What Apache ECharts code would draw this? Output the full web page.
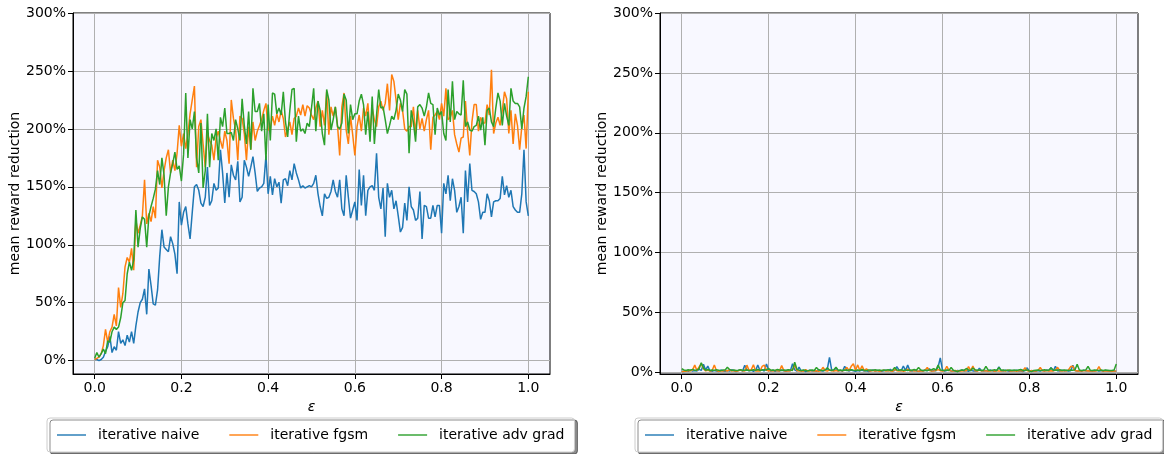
<!DOCTYPE html>
<html>
<head>
<meta charset="utf-8">
<script src="https://cdn.jsdelivr.net/npm/echarts@6/dist/echarts.min.js"></script>
<style>html,body{margin:0;padding:0;background:#fff}#c{width:1164px;height:454px}</style>
</head>
<body>
<div id="c"></div>
<script>
// epsilon grid: 201 points from 0 to 1
const eps = Array.from({length: 201}, (_, i) => i / 200);
const xTicks = [0, 0.2, 0.4, 0.6, 0.8, 1.0];
const yTicks = [0, 50, 100, 150, 200, 250, 300];
const seriesNames = ['iterative naive', 'iterative fgsm', 'iterative adv grad'];

// left panel (mean reward reduction, %)
const leftNaive = [1,1,0,1,3,8,12,21,7,12,
9,25,15,18,13,22,16,25,15,30,
42,50,53,62,40,79,65,49,48,61,
90,113,98,96,94,107,101,92,75,137,
117,128,133,118,105,128,150,152,
147,136,133,141,167,134,138,153,147,149,182,162,136,162,141,169,160,156,172,137,141,173,167,159,167,176,162,146,149,150,153,177,144,159,143,157,150,154,136,156,157,151,164,156,170,162,156,149,151,149,
150,
151,150,153,160,144,133,125,144,140,141,146,156,146,141,156,131,125,160,141,123,130,137,121,165,134,160,125,147,150,151,147,179,141,131,149,107,153,141,147,131,138,125,111,115,136,121,150,133,130,121,123,146,105,134,
133,123,123,134,124,134,134,110,153,144,160,138,157,147,128,133,141,110,164,137,170,147,146,144,137,122,128,128,144,138,124,137,138,138,140,159,143,151,141,147,133,130,128,128,144,182,137,125];

const leftFgsm = [1,2,3,6,13,27,16,25,29,40,30,63,46,58,81,89,85,97,78,121,110,117,125,156,118,127,120,133,123,173,167,149,164,175,182,162,173,164,179,203,185,196,183,196,213,225,237,167,202,208,187,
167,196,190,186,173,192,198,190,183,198,190,170,225,209,199,173,211,209,196,173,202,182,206,190,198,203,208,216,222,199,200,211,203,213,206,216,209,193,200,206,195,209,211,218,212,221,211,
220,
218,212,208,218,224,202,216,203,232,195,219,211,219,203,177,219,231,199,187,211,195,177,202,212,198,218,211,222,195,218,208,202,219,224,216,222,239,216,247,241,225,208,222,216,200,198,202,202,219,196,216,200,209,198,
208,216,182,210,212,215,208,222,211,235,208,210,216,195,187,180,192,193,224,198,177,206,221,221,198,210,205,205,221,212,251,196,205,210,203,216,232,226,196,216,187,213,203,182,202,212,183,232];

const leftAdvGrad = [2,7,3,6,10,6,17,16,25,29,27,29,37,50,52,75,85,78,87,130,98,114,124,122,98,125,133,140,148,164,152,175,160,125,150,162,170,180,165,168,155,178,231,175,208,200,215,175,162,205,149,
164,213,167,196,190,200,173,210,202,218,196,196,197,190,208,200,190,226,203,187,215,182,235,215,215,222,198,213,173,221,190,231,230,213,218,212,232,206,193,216,234,235,189,211,198,200,196,
205,
202,218,235,198,224,216,196,186,234,225,199,208,219,202,200,205,230,225,196,221,208,213,213,224,230,221,195,215,189,228,187,212,234,218,219,208,196,203,211,208,216,230,225,215,234,230,179,216,206,189,219,221,218,211,
219,231,222,221,195,218,212,215,196,190,234,206,241,208,215,213,212,242,202,206,199,198,202,203,211,199,210,186,216,218,206,202,218,231,224,203,222,211,203,235,224,222,222,219,200,218,228,245];

// right panel (mean reward reduction, %)
const rightNaive = [1.0,0.6,1.4,0.8,1.9,1.0,1.5,1.2,2.5,1.6,
6.8,2.0,5.2,1.3,0.8,1.6,1.1,0.7,1.9,1.2,
0.9,1.5,1.0,2.1,1.3,0.6,1.4,2.3,1.0,5.8,
2.1,1.2,1.8,0.9,1.6,6.1,1.5,2.3,1.1,6.9,
2.2,1.0,1.7,0.8,1.4,1.1,2.0,1.3,0.9,1.6,
1.2,7.2,2.0,1.1,4.3,1.0,1.5,0.7,1.2,1.8,
1.0,1.4,0.8,2.2,1.3,1.0,1.7,2.6,12.5,2.1,
1.2,3.8,1.0,1.6,0.9,5.0,1.8,1.1,2.0,1.3,
0.8,1.5,1.2,1.9,1.0,1.4,0.7,1.3,2.0,1.1,
1.6,1.0,0.8,1.3,1.8,1.2,2.4,1.0,1.5,4.8,
1.9,1.2,5.3,1.5,6.0,1.4,1.0,1.7,1.2,0.9,
1.5,1.1,2.0,1.3,3.0,1.0,1.6,1.2,4.5,12.0,
1.8,1.1,1.5,2.2,1.0,1.4,0.8,1.6,1.2,2.0,
1.1,1.5,0.9,1.8,1.2,1.4,1.0,3.4,1.3,1.1,
1.6,1.0,1.9,1.2,0.8,1.5,4.5,1.3,1.0,1.7,
1.2,0.9,1.5,1.1,1.8,1.0,1.3,0.7,1.6,3.8,
0.5,1.2,1.0,0.8,1.4,1.1,1.7,1.0,2.0,1.3,
4.0,1.1,5.0,1.4,1.0,1.8,1.2,1.5,1.0,1.3,
5.8,1.6,1.1,1.4,0.9,1.7,1.2,1.5,1.0,1.3,
1.1,1.6,1.0,1.4,0.8,1.5,1.2,1.0,1.3,1.1,
1.0];

const rightFgsm = [0.5,1.0,0.8,1.5,1.2,2.0,6.0,1.5,4.5,7.2,
3.0,1.2,1.8,1.0,1.5,6.2,1.4,0.9,1.3,1.0,
1.6,1.1,2.2,1.0,1.5,0.8,1.2,1.9,1.3,1.0,
6.0,1.5,2.1,6.3,1.2,1.4,1.0,4.9,6.0,1.8,
1.2,1.5,1.0,1.6,1.3,1.1,5.6,1.4,1.2,1.0,
1.4,2.1,6.2,1.5,1.0,1.3,0.9,2.3,1.2,1.0,
1.6,1.1,1.3,0.8,1.2,4.2,1.5,1.0,2.0,1.3,
1.1,1.5,1.0,1.6,1.2,1.8,4.2,1.3,5.0,7.2,
1.8,6.2,1.5,5.4,1.2,3.0,1.3,1.0,1.6,1.1,
1.4,0.9,1.3,1.8,1.0,1.5,1.2,0.8,2.5,1.4,
1.0,1.5,0.9,1.3,2.8,1.1,1.6,1.0,1.4,0.8,
1.3,1.1,1.7,4.0,1.5,1.2,1.0,1.6,2.2,1.4,
1.1,1.5,5.0,1.6,1.2,1.0,1.5,0.9,1.3,1.1,
1.6,1.2,4.8,1.5,5.2,1.3,1.0,1.8,1.2,1.5,
1.0,1.3,1.1,1.6,0.9,1.4,1.2,1.0,1.5,1.1,
1.8,1.2,1.0,1.4,0.8,1.3,1.6,1.1,3.8,1.4,
1.0,1.5,1.2,1.0,1.6,4.0,1.3,1.1,1.5,1.0,
1.4,1.2,1.7,4.2,1.3,1.0,1.5,1.2,2.0,4.8,
5.0,1.6,1.1,1.4,1.0,1.3,1.6,1.1,1.4,1.2,
1.0,1.3,4.8,1.5,1.1,1.4,1.0,1.2,0.9,1.1,
1.0];

const rightAdvGrad = [3.0,2.0,1.5,2.2,1.8,2.5,1.6,2.0,3.0,8.0,
3.5,1.8,2.4,1.5,2.0,1.6,2.2,1.8,1.4,2.0,
2.0,4.2,2.3,1.6,2.0,1.5,1.8,2.2,1.6,1.8,
2.0,1.5,1.7,2.1,1.8,2.4,1.6,1.9,2.2,2.0,
3.2,1.8,2.0,1.6,2.3,1.9,1.5,2.0,1.7,2.2,
2.0,1.6,8.5,2.5,1.8,1.5,2.0,1.6,1.2,1.8,
2.0,1.5,4.0,2.2,1.8,1.6,2.0,3.8,2.0,1.6,
2.2,4.2,1.8,2.0,1.5,1.9,1.6,2.0,2.2,1.8,
1.5,2.0,1.6,2.3,1.8,1.4,1.9,2.0,1.6,2.2,
1.8,2.0,1.5,1.9,1.7,2.1,1.6,1.8,4.0,2.0,
1.8,2.2,1.6,2.0,1.5,1.9,1.7,2.3,1.8,4.0,
2.0,1.6,1.8,1.5,2.0,2.2,3.0,1.8,6.0,2.0,
1.8,1.5,2.0,1.6,4.0,1.8,1.2,0.5,1.6,2.0,
1.8,3.2,2.0,1.6,3.5,2.2,1.8,2.0,1.5,1.9,
5.0,2.0,1.6,1.8,2.2,1.5,4.0,1.8,2.0,1.6,
1.8,2.0,1.5,1.9,1.6,2.0,2.3,1.8,1.5,2.0,
1.2,0.6,1.5,1.8,2.0,1.6,1.8,2.2,1.5,1.9,
3.5,1.8,2.0,1.6,2.2,1.5,2.0,1.8,1.6,2.0,
1.8,2.2,6.8,2.0,1.6,1.8,2.0,5.0,1.8,1.6,
2.0,1.8,1.5,1.9,1.6,2.0,1.8,1.5,1.6,2.0,
7.0];

const colors = ['#1f77b4', '#ff7f0e', '#2ca02c'];
const FONT = 'DejaVu Sans';
const panels = [
  {data: [leftNaive, leftFgsm, leftAdvGrad], ymin: -11.5},
  {data: [rightNaive, rightFgsm, rightAdvGrad], ymin: -1.4}
];

function xAxis(idx) {
  return {
    type: 'value', gridIndex: idx, min: -0.05, max: 1.05,
    name: 'ε', nameLocation: 'middle', nameGap: 22,
    nameTextStyle: {fontFamily: FONT, fontSize: 14, fontStyle: 'italic', color: '#000'},
    axisLine: {show: true, onZero: false, lineStyle: {color: '#000', width: 1}},
    axisTick: {show: true, length: 5, lineStyle: {color: '#000'}, customValues: xTicks},
    axisLabel: {fontFamily: FONT, fontSize: 14, color: '#000', margin: 7, customValues: xTicks,
      formatter: v => v.toFixed(1)},
    splitLine: {show: true, lineStyle: {color: '#b0b0b0', width: 1}}
  };
}
function yAxis(idx, ymin) {
  return {
    type: 'value', gridIndex: idx, min: ymin, max: 300,
    name: 'mean reward reduction', nameLocation: 'middle', nameGap: 47, nameRotate: 90,
    nameTextStyle: {fontFamily: FONT, fontSize: 14, color: '#000'},
    axisLine: {show: true, onZero: false, lineStyle: {color: '#000', width: 1}},
    axisTick: {show: true, length: 5, lineStyle: {color: '#000'}, customValues: yTicks},
    axisLabel: {fontFamily: FONT, fontSize: 14, color: '#000', margin: 7, customValues: yTicks,
      formatter: v => Math.round(v) + '%'},
    splitLine: {show: true, lineStyle: {color: '#b0b0b0', width: 1}}
  };
}
function legend(left) {
  return {
    left: left, top: 418, orient: 'horizontal',
    icon: 'rect', itemWidth: 29, itemHeight: 2, itemGap: 30,
    padding: [9, 10, 9, 10],
    backgroundColor: '#fff', borderColor: '#cccccc', borderWidth: 1, borderRadius: 3,
    shadowColor: 'rgba(0,0,0,0.45)', shadowBlur: 0, shadowOffsetX: 3, shadowOffsetY: 2,
    textStyle: {fontFamily: FONT, fontSize: 14, color: '#000', padding: [0, 0, 0, 7], lineHeight: 16},
    itemStyle: {opacity: 0.7},
    data: seriesNames
  };
}

const series = [];
panels.forEach((p, g) => {
  p.data.forEach((arr, k) => {
    series.push({
      name: seriesNames[k], type: 'line', xAxisIndex: g, yAxisIndex: g,
      symbol: 'none', showSymbol: false, animation: false,
      lineStyle: {width: 1.5, color: colors[k]}, itemStyle: {color: colors[k]},
      data: eps.map((x, i) => [x, arr[i]])
    });
  });
});

const chart = echarts.init(document.getElementById('c'), null, {renderer: 'canvas'});
chart.setOption({
  animation: false,
  backgroundColor: '#fff',
  grid: [
    {left: 73, right: 614, top: 13, bottom: 80, show: true, backgroundColor: '#f8f8ff', borderColor: '#000', borderWidth: 1},
    {left: 660, right: 26, top: 13, bottom: 80, show: true, backgroundColor: '#f8f8ff', borderColor: '#000', borderWidth: 1}
  ],
  legend: [legend(47), legend(635)],
  xAxis: [xAxis(0), xAxis(1)],
  yAxis: [yAxis(0, panels[0].ymin), yAxis(1, panels[1].ymin)],
  series: series
});
</script>
</body>
</html>
